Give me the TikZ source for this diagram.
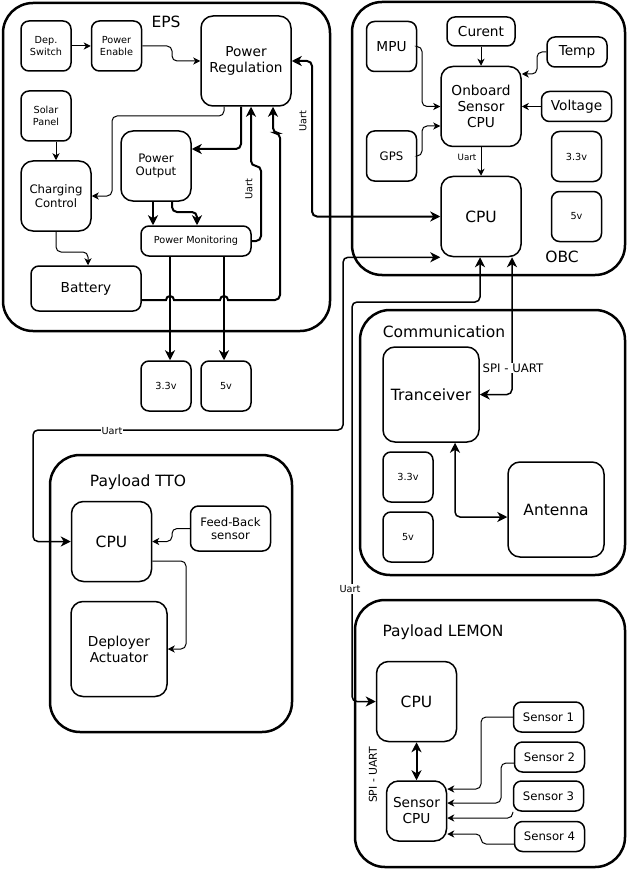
\documentclass[tikz,border=0pt]{standalone}
\usepackage{fontspec}
\setmainfont{DejaVu Sans}
\usetikzlibrary{arrows.meta}

\begin{document}
\begin{tikzpicture}[x=1pt,y=-1pt]

\tikzset{subsys/.style = {shape=rectangle,draw,line width=2.5pt,rounded corners=30pt,inner sep=0pt}}
\tikzset{block/.style = {shape=rectangle,draw,line width=1.5pt,rounded corners=8pt,align=center,inner sep=0pt}}
\tikzset{bigblock/.style = {block,rounded corners=12pt}}
\tikzset{t16/.style = {font=\fontsize{15.5}{18}\selectfont}}
\tikzset{t14/.style = {font=\fontsize{13.7}{16}\selectfont}}
\tikzset{t12/.style = {font=\fontsize{11.7}{13.7}\selectfont}}
\tikzset{t10/.style = {font=\fontsize{9.7}{11.5}\selectfont}}
\tikzset{wire/.style = {line width=1pt,rounded corners=5pt,-{Stealth[length=7pt,width=7pt,inset=2pt]}}}
\tikzset{bus/.style = {line width=2pt,rounded corners=5pt,-{Stealth[length=10pt,width=10pt,inset=3pt]}}}
\tikzset{link/.style = {line width=1.5pt,rounded corners=5pt,{Stealth[length=10pt,width=10pt,inset=3pt]}-{Stealth[length=10pt,width=10pt,inset=3pt]}}}
\tikzset{lbl/.style = {fill=white,inner sep=1pt}}

\useasboundingbox (0,0) rectangle (628,869);

% subsystems
\node[subsys,minimum width=327,minimum height=328] (eps) at (166.5,167) {};
\node[subsys,minimum width=273,minimum height=273] (obc) at (488.5,138.5) {};
\node[subsys,minimum width=265,minimum height=265] (comm) at (492.5,442.5) {};
\node[subsys,minimum width=242,minimum height=277] (tto) at (171,593.5) {};
\node[subsys,minimum width=270,minimum height=267] (lemon) at (490,733.5) {};

\node[t16] (epst) at (166,22) {EPS};
\node[t16] (obct) at (562,257) {OBC};
\node[t16] (commt) at (444,332) {Communication};
\node[t16] (ttot) at (138,482) {Payload TTO};
\node[t16] (lemont) at (443,632) {Payload LEMON};

% EPS
\node[block,t10,minimum size=50] (dsw) at (46,46) {Dep.\\Switch};
\node[block,t10,minimum size=50] (pen) at (116.5,46) {Power\\Enable};
\node[bigblock,t14,minimum size=90] (preg) at (246,61) {Power\\Regulation};
\node[block,t10,minimum size=50] (sol) at (46,116) {Solar\\Panel};
\node[bigblock,t12,minimum size=70] (chg) at (56,196) {Charging\\Control};
\node[bigblock,t12,minimum size=70] (pout) at (156,166) {Power\\Output};
\node[block,t10,minimum width=110,minimum height=30] (pmon) at (196,241) {Power Monitoring};
\node[block,t14,minimum width=110,minimum height=45] (bat) at (86,288.5) {Battery};
\node[block,t10,minimum size=50] (o33) at (166,386) {3.3v};
\node[block,t10,minimum size=50] (o5) at (226,386) {5v};

% OBC
\node[block,t14,minimum size=50] (mpu) at (391.5,46.5) {MPU};
\node[block,t14,minimum width=68,minimum height=29] (cur) at (481,31.5) {Curent};
\node[block,t14,minimum width=60,minimum height=30] (tmp) at (577,52) {Temp};
\node[bigblock,t14,minimum size=80] (osc) at (481,106.5) {Onboard\\Sensor\\CPU};
\node[block,t14,minimum width=70,minimum height=30] (volt) at (576.5,106.5) {Voltage};
\node[block,t12,minimum size=50] (gps) at (391.5,156) {GPS};
\node[block,t10,minimum size=50] (c33) at (576.5,156.5) {3.3v};
\node[block,t10,minimum size=50] (c5) at (576.5,216.5) {5v};
\node[bigblock,t16,minimum size=80] (cpu) at (481,216.5) {CPU};

% communication
\node[bigblock,t16,minimum width=96,minimum height=95] (trx) at (431,394.5) {Tranceiver};
\node[block,t10,minimum size=50] (m33) at (408,477) {3.3v};
\node[block,t10,minimum size=50] (m5) at (408,537) {5v};
\node[bigblock,t16,minimum width=96,minimum height=95] (ant) at (556,509.5) {Antenna};

% payload TTO
\node[bigblock,t16,minimum size=80] (tcpu) at (111.5,541.5) {CPU};
\node[block,t12,minimum width=80,minimum height=45] (fbs) at (230.5,528.5) {Feed-Back\\sensor};
\node[bigblock,t14,minimum width=96,minimum height=95] (dep) at (119,649) {Deployer\\Actuator};

% payload LEMON
\node[bigblock,t16,minimum size=80] (lcpu) at (416.5,701.5) {CPU};
\node[bigblock,t14,minimum size=60] (scpu) at (416.5,811) {Sensor\\CPU};
\node[block,t12,minimum width=70,minimum height=30] (s1) at (548.5,717) {Sensor 1};
\node[block,t12,minimum width=70,minimum height=30] (s2) at (549.5,757) {Sensor 2};
\node[block,t12,minimum width=70,minimum height=30] (s3) at (548.5,796) {Sensor 3};
\node[block,t12,minimum width=70,minimum height=30] (s4) at (549.5,836.5) {Sensor 4};

% EPS wires
\draw[wire] (dsw) -- (pen);
\draw[wire] (pen.east) -| (172,61) -- (preg.west);
\draw[wire] (preg.south -| 224,0) |- (112,116) |- (chg.east);
\draw[bus] (preg.south -| 241,0) |- (pout.east |- 0,149);
\draw[bus] (pmon.east) -| (261,166) -| (preg.south -| 251,0);
\draw[bus] (pout.south -| 153,0) -- (pmon.north -| 153,0);
\draw[bus] (pout.south -| 172,0) |- (197,212) -- (pmon.north -| 197,0);
\draw[wire] (sol.south -| chg.north) -- (chg.north);
\draw[wire] (chg.south) |- (88,252) -- (bat.north -| 88,0);
\draw[bus,sharp corners] (bat.east |- 0,300) -- (166,300) arc[start angle=180,end angle=360,radius=4]
  -- (220,300) arc[start angle=180,end angle=360,radius=4] [rounded corners=5pt] -| (280,133) -| (preg.south -| 273,0);
\draw[bus] (pmon.south -| 170,0) -- (o33.north -| 170,0);
\draw[bus] (pmon.south -| 224,0) -- (o5.north -| 224,0);

% OBC wires
\draw[wire] (cur) -- (osc);
\draw[wire] (tmp.west) -| (537,74) -- (osc.east |- 0,74);
\draw[wire] (volt) -- (osc);
\draw[wire] (mpu.east) -| (422,106.5) -- (osc.west);
\draw[wire] (gps.east) -| (422,126) -- (osc.west |- 0,126);
\draw[wire] (osc) -- (cpu);

% links between subsystems
\draw[link,line width=2pt] (preg.east) -| (312,216.5) -- (cpu.west);
\draw[link] (cpu.south west) -| (343,430) -| (33,541.5) -- (tcpu.west);
\draw[link] (cpu.south -| 480,0) |- (352,302) |- (lcpu.west);
\draw[link] (cpu.south -| 512,0) |- (trx.east);
\draw[link] (trx.south -| 455,0) |- (ant.west |- 0,517);

% payload wires
\draw[wire] (fbs.west) -| (172,541.5) -- (tcpu.east);
\draw[wire] (tcpu.east |- 0,561) -| (186,649) -- (dep.east);
\draw[link,line width=2pt] (lcpu) -- (scpu);
\draw[wire] (s1.west) -| (481,789) -- (scpu.east |- 0,789);
\draw[wire] (s2.west |- 0,763) -| (501,803) -- (scpu.east |- 0,803);
\draw[wire] (s3.south west) |- (scpu.east |- 0,818);
\draw[wire] (s4.west |- 0,844) -| (481,834) -- (scpu.east |- 0,834);

% labels
\node[t10,rotate=90] (u1) at (303,121) {Uart};
\node[t10,rotate=90] (u2) at (249,189) {Uart};
\node[font=\fontsize{8.7}{10}\selectfont] (u3) at (467,157) {Uart};
\node[t10,lbl] (u4) at (112,431) {Uart};
\node[t10,lbl] (u5) at (350,589) {Uart};
\node[t12,lbl] (spi1) at (513,368) {SPI - UART};
\node[font=\fontsize{10.8}{12}\selectfont,rotate=90] (spi2) at (373,775) {SPI - UART};

\end{tikzpicture}
\end{document}
